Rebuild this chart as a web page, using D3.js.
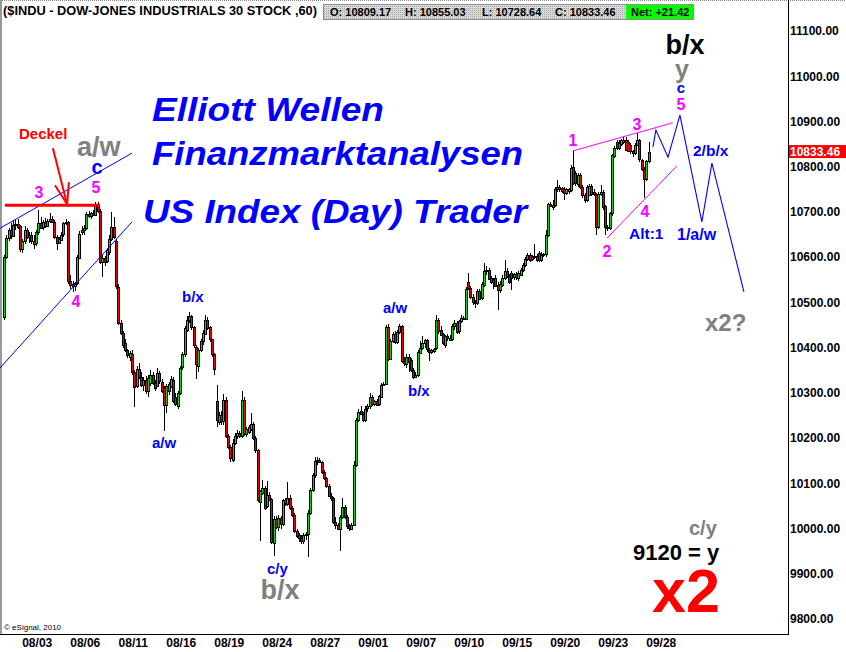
<!DOCTYPE html>
<html><head><meta charset="utf-8">
<script src="https://cdn.jsdelivr.net/npm/d3@7"></script>
<style>body{margin:0;background:#fff}svg{display:block;font-family:"Liberation Sans",Arial,sans-serif}</style>
</head><body><div id="chart"></div>
<script>
// ---- DATA: hourly bars, $INDU 60-min (08/02 - 09/28/2010) ----
const open = [
10467,10600,10642,10660,10648,10672,10674,10668,10618,10635,
10660,10645,10650,10636,10630,10655,10676,10666,10678,10670,
10680,10685,10678,10645,10632,10640,10650,10675,10678,10548,
10540,10535,10542,10600,10655,10660,10665,10695,10690,10697,
10693,10718,10703,10590,10598,10590,10612,10640,10667,10635,
10535,10455,10432,10410,10395,10380,10385,10345,10315,10352,
10335,10318,10328,10305,10322,10340,10322,10315,10343,10325,
10310,10272,10305,10315,10328,10290,10272,10300,10356,10385,
10440,10462,10470,10445,10402,10360,10395,10415,10432,10462,
10445,10418,10385,10282,10237,10252,10238,10285,10205,10180,
10152,10190,10205,10212,10205,10285,10208,10215,10222,10232,
10200,10173,10058,10080,10090,10050,10075,10065,9970,10022,
10005,10024,10010,10062,10055,10068,10045,10030,9995,9985,
9978,9972,9985,9988,10035,10085,10118,10150,10152,10148,
10125,10112,10095,10073,10068,10015,10008,9999,10025,10048,
10025,10005,10000,10008,10140,10240,10260,10254,10240,10265,
10270,10290,10275,10282,10274,10292,10318,10320,10445,10375,
10415,10430,10412,10435,10448,10370,10365,10380,10372,10350,
10335,10340,10390,10400,10410,10416,10395,10390,10394,10398,
10460,10440,10430,10405,10425,10418,10420,10448,10455,10435,
10458,10465,10463,10545,10532,10512,10500,10498,10525,10508,
10540,10570,10572,10553,10545,10555,10538,10527,10540,10555,
10570,10558,10565,10555,10562,10555,10562,10572,10582,10596,
10605,10595,10600,10603,10610,10594,10605,10607,10650,10718,
10710,10715,10750,10755,10752,10750,10742,10745,10750,10800,
10785,10762,10782,10755,10738,10726,10738,10758,10745,10740,
10667,10740,10745,10712,10665,10664,10697,10825,10855,10842,
10850,10855,10860,10855,10848,10835,10830,10848,10858,10815,
10795,10772,10812];
const high = [
10605,10648,10665,10675,10680,10685,10685,10672,10640,10668,
10665,10655,10656,10648,10660,10704,10688,10682,10686,10685,
10697,10692,10682,10650,10645,10655,10678,10685,10680,10560,
10548,10545,10605,10658,10668,10670,10700,10702,10700,10705,
10722,10722,10706,10604,10603,10620,10650,10700,10689,10640,
10540,10460,10436,10420,10398,10392,10395,10350,10360,10365,
10345,10335,10338,10340,10350,10345,10328,10355,10348,10330,
10315,10320,10325,10338,10335,10300,10305,10360,10390,10448,
10470,10478,10472,10448,10405,10400,10420,10440,10473,10468,
10448,10420,10388,10317,10258,10260,10298,10290,10210,10185,
10198,10212,10218,10215,10305,10290,10225,10228,10255,10236,
10205,10176,10085,10108,10095,10106,10080,10068,10028,10028,
10030,10028,10065,10068,10103,10075,10050,10035,10000,9990,
9985,9990,9992,10040,10090,10122,10158,10158,10155,10150,
10130,10115,10098,10078,10070,10025,10012,10030,10068,10052,
10030,10010,10012,10150,10245,10265,10272,10258,10270,10275,
10300,10295,10285,10286,10295,10322,10325,10450,10452,10420,
10435,10436,10440,10452,10450,10380,10385,10385,10378,10355,
10345,10395,10415,10425,10420,10420,10400,10398,10400,10472,
10465,10448,10432,10428,10430,10428,10452,10460,10458,10462,
10472,10470,10535,10566,10536,10518,10505,10530,10530,10545,
10586,10580,10575,10558,10555,10560,10545,10548,10560,10594,
10575,10562,10570,10565,10568,10570,10575,10588,10600,10610,
10610,10605,10628,10608,10614,10612,10610,10660,10720,10722,
10726,10755,10770,10760,10755,10754,10752,10752,10804,10838,
10790,10785,10786,10760,10742,10760,10762,10762,10750,10742,
10745,10760,10748,10715,10670,10700,10828,10845,10860,10858,
10862,10866,10866,10860,10852,10838,10852,10875,10862,10818,
10800,10815,10855];
const low = [
10460,10595,10635,10640,10645,10660,10662,10612,10610,10630,
10640,10632,10628,10618,10625,10650,10662,10660,10665,10668,
10675,10676,10640,10616,10628,10635,10645,10670,10540,10530,
10522,10525,10538,10595,10648,10650,10660,10686,10685,10690,
10690,10698,10585,10556,10580,10588,10605,10635,10640,10530,
10450,10428,10400,10390,10378,10370,10340,10268,10310,10330,
10312,10305,10298,10290,10315,10318,10305,10312,10320,10300,
10215,10255,10295,10310,10278,10270,10265,10295,10350,10380,
10435,10455,10440,10400,10330,10345,10390,10405,10428,10440,
10412,10380,10340,10225,10228,10228,10230,10200,10175,10148,
10148,10185,10198,10200,10200,10205,10203,10208,10215,10195,
10168,10058,9973,10075,10040,10045,10060,9965,9940,9998,
9995,10000,10005,10050,10050,10040,10025,9990,9980,9970,
9965,9965,9975,9937,10030,10080,10112,10140,10145,10120,
10108,10090,10070,10060,10010,10000,9996,9950,10020,10020,
10000,9995,9996,10005,10135,10235,10250,10235,10235,10258,
10265,10270,10270,10270,10270,10288,10315,10318,10370,10372,
10410,10408,10408,10430,10365,10360,10355,10345,10345,10330,
10332,10335,10385,10395,10400,10390,10370,10386,10388,10395,
10430,10425,10405,10400,10415,10414,10415,10440,10430,10430,
10455,10460,10460,10528,10508,10495,10487,10495,10505,10505,
10535,10560,10550,10540,10530,10535,10483,10520,10535,10550,
10553,10540,10527,10550,10550,10548,10558,10568,10578,10592,
10590,10592,10596,10590,10590,10590,10600,10600,10645,10710,
10705,10710,10745,10745,10742,10726,10738,10740,10745,10760,
10758,10755,10750,10730,10720,10722,10735,10735,10735,10649,
10662,10735,10705,10648,10658,10660,10692,10820,10838,10838,
10845,10850,10835,10832,10828,10822,10826,10845,10810,10790,
10731,10768,10808];
const close = [
10600,10642,10660,10648,10672,10674,10668,10618,10635,10660,
10645,10650,10636,10630,10655,10676,10666,10678,10670,10680,
10685,10678,10645,10632,10640,10650,10675,10678,10548,10540,
10535,10542,10600,10652,10660,10665,10695,10690,10697,10693,
10718,10703,10590,10598,10590,10615,10640,10667,10645,10535,
10455,10432,10405,10395,10383,10388,10345,10312,10352,10335,
10318,10328,10303,10333,10340,10322,10310,10343,10325,10306,
10272,10315,10320,10330,10282,10275,10300,10356,10385,10443,
10462,10470,10445,10405,10365,10395,10415,10432,10462,10445,
10418,10385,10352,10240,10252,10238,10285,10205,10180,10155,
10190,10205,10212,10205,10285,10210,10220,10225,10232,10200,
10173,10062,10082,10090,10045,10075,10065,9970,10022,10005,
10024,10010,10062,10055,10068,10045,10030,9995,9985,9978,
9972,9985,9988,10035,10085,10118,10150,10152,10148,10125,
10112,10095,10073,10068,10015,10008,9999,10025,10048,10025,
10005,10000,10008,10140,10240,10258,10254,10240,10265,10270,
10290,10275,10282,10274,10292,10318,10320,10445,10375,10415,
10430,10412,10435,10448,10370,10365,10380,10370,10350,10335,
10340,10390,10400,10410,10416,10395,10390,10394,10398,10460,
10435,10430,10410,10425,10420,10422,10448,10455,10435,10458,
10465,10463,10530,10532,10512,10500,10498,10525,10508,10540,
10570,10572,10553,10545,10550,10538,10527,10540,10555,10570,
10558,10545,10555,10562,10555,10565,10572,10582,10596,10605,
10595,10600,10603,10595,10594,10605,10607,10650,10718,10713,
10715,10750,10755,10750,10745,10742,10750,10750,10798,10765,
10762,10782,10755,10738,10726,10755,10758,10740,10740,10667,
10740,10745,10712,10665,10666,10697,10825,10842,10842,10852,
10858,10860,10838,10835,10835,10830,10848,10858,10815,10795,
10772,10812,10833];

const priceTicks = [9800,9900,10000,10100,10200,10300,10400,10500,10600,10700,10800,10900,11000,11100];
const dayLabels = ["08/03","08/06","08/11","08/16","08/19","08/24","08/27","09/01","09/07","09/10","09/15","09/20","09/23","09/28"];
const dayStartIndex = [6,27,48,69,90,111,132,153,174,195,216,237,258,279];
const lastPrice = 10833.46;
const quoteLabels = ["O: 10809.17","H: 10855.03","L: 10728.64","C: 10833.46"];
const netLabel = "Net: +21.42";
const titleText = "($INDU - DOW-JONES INDUSTRIALS 30 STOCK ,60)";

// annotation geometry in data space: [bar index, price]
const channelUpper = [[-1.75,10664],[56,10830]];
const channelLower = [[-1.75,10355],[56,10678]];
const deckelLine = [[0.4,10715],[42,10715]];
const arrowShaft = [[21.4,10841],[27.6,10717]];
const arrowHead = [[22.3,10759],[27.6,10717],[28.4,10766]];
const wedgeUpper = [[248.9,10835],[292.6,10897]];
const wedgeLower = [[263.8,10642],[294.4,10802]];
const projection = [[283.9,10844],[285.2,10881],[290.5,10821],[295.7,10914],[305.3,10678],[309.7,10808],[323.7,10523]];

// ---- DRAW ----
const W = 846, H = 652;
const svg = d3.select('#chart').append('svg').attr('width', W).attr('height', H);
const defs = svg.append('defs');
const pat = defs.append('pattern').attr('id','dots').attr('width',2).attr('height',2).attr('patternUnits','userSpaceOnUse');
pat.append('rect').attr('width',2).attr('height',2).attr('fill','#d8d8d8');
pat.append('rect').attr('width',1).attr('height',1).attr('fill','#a8a8a8');

svg.append('rect').attr('width', W).attr('height', H).attr('fill', '#fff');

const x = d3.scaleLinear().domain([0, 282]).range([4, 648.6]);
const y = d3.scaleLinear().domain([9800, 11100]).range([619, 31]);

// frame
svg.append('line').attr('x1',0).attr('x2',W).attr('y1',0.5).attr('y2',0.5).attr('stroke','#888').attr('stroke-dasharray','1,1');
svg.append('line').attr('x1',1).attr('x2',1).attr('y1',0).attr('y2',634).attr('stroke','#999').attr('stroke-width',2);
svg.append('line').attr('x1',788.5).attr('x2',788.5).attr('y1',0).attr('y2',635).attr('stroke','#000');
svg.append('line').attr('x1',0).attr('x2',789).attr('y1',634.5).attr('y2',634.5).attr('stroke','#000');

// axes
const yAxis = d3.axisRight(y).tickValues(priceTicks).tickSize(0).tickPadding(2).tickFormat(d3.format('.2f'));
const gy = svg.append('g').attr('transform','translate(788,0)').call(yAxis);
gy.select('.domain').remove();
gy.selectAll('text').attr('font-size',12).attr('font-weight','bold').attr('fill','#000').attr('font-family','"Liberation Sans",Arial,sans-serif');

const xAxis = d3.axisBottom(x).tickValues(dayStartIndex).tickSize(0).tickPadding(4).tickFormat((d,i)=>dayLabels[i]);
const gx = svg.append('g').attr('transform','translate(0,634)').call(xAxis);
gx.select('.domain').remove();
gx.selectAll('text').attr('dx',19).attr('font-size',12).attr('font-weight','bold').attr('fill','#000').attr('font-family','"Liberation Sans",Arial,sans-serif');

// candles
const bars = d3.range(close.length).map(i => ({i, o: open[i], h: high[i], l: low[i], c: close[i]}));
const cg = svg.append('g').attr('shape-rendering','crispEdges');
cg.selectAll('line.w').data(bars).join('line').attr('class','w')
  .attr('x1', d => Math.round(x(d.i)) + 0.5).attr('x2', d => Math.round(x(d.i)) + 0.5)
  .attr('y1', d => y(d.h)).attr('y2', d => y(d.l)).attr('stroke','#000');
cg.selectAll('rect.b').data(bars).join('rect').attr('class','b')
  .attr('x', d => Math.round(x(d.i)) - 0.5)
  .attr('width', 2)
  .attr('y', d => Math.round(y(Math.max(d.o, d.c))) + 0.5)
  .attr('height', d => Math.max(1, Math.round(Math.abs(y(d.o) - y(d.c)))))
  .attr('fill', d => d.c >= d.o ? '#00dd00' : '#ee0000')
  .attr('stroke','#000').attr('stroke-width',1);

// annotation lines
const ln = d3.line().x(d => x(d[0])).y(d => y(d[1]));
svg.append('path').attr('d', ln(channelUpper)).attr('stroke','#0000ff').attr('fill','none');
svg.append('path').attr('d', ln(channelLower)).attr('stroke','#0000ff').attr('fill','none');
svg.append('path').attr('d', ln(deckelLine)).attr('stroke','#ff0000').attr('stroke-width',3).attr('fill','none');
svg.append('path').attr('d', ln(arrowShaft)).attr('stroke','#ff0000').attr('stroke-width',2).attr('fill','none');
svg.append('path').attr('d', ln(arrowHead)).attr('stroke','#ff0000').attr('stroke-width',2).attr('fill','none');
svg.append('path').attr('d', ln(wedgeUpper)).attr('stroke','#ff00ff').attr('fill','none');
svg.append('path').attr('d', ln(wedgeLower)).attr('stroke','#ff00ff').attr('fill','none');
svg.append('path').attr('d', ln(projection)).attr('stroke','#0000ff').attr('stroke-width',1.1).attr('fill','none');

// text helper
function txt(s, tx, ty, size, color, opt = {}) {
  const t = svg.append('text').attr('x', tx).attr('y', ty).text(s)
    .attr('font-size', size).attr('font-weight', opt.weight || 'bold').attr('fill', color)
    .attr('text-anchor', opt.anchor || 'start');
  if (opt.italic) t.attr('font-style','italic');
  if (opt.len) t.attr('textLength', opt.len).attr('lengthAdjust','spacingAndGlyphs');
  return t;
}

// header
txt(titleText, 3, 15, 13, '#000', {len: 314});
svg.append('rect').attr('x',323.5).attr('y',4.5).attr('width',370).attr('height',15).attr('fill','url(#dots)').attr('stroke','#909090');
const qx = [330, 405, 482, 555];
quoteLabels.forEach((q,i) => txt(q, qx[i], 16, 11, '#000'));
svg.append('rect').attr('x',626).attr('y',5).attr('width',67).attr('height',14).attr('fill','#00ff00');
txt(netLabel, 631, 16, 11, '#000');

// last price marker
svg.append('rect').attr('x',789).attr('y',y(lastPrice)-6.5).attr('width',57).attr('height',13).attr('fill','#ff0000');
txt(d3.format('.2f')(lastPrice), 790, y(lastPrice)+4.5, 12, '#fff');

// copyright
txt('\u00a9 eSignal, 2010', 4, 630, 8, '#000', {weight:'normal'});

// big headlines
txt('Elliott Wellen', 152, 121, 34, '#0000ff', {italic:true, len:232});
txt('Finanzmarktanalysen', 152, 165, 34, '#0000ff', {italic:true, len:371});
txt('US Index (Day) Trader', 143, 223, 34, '#0000ff', {italic:true, len:384});

// wave labels
txt('Deckel', 19, 139, 15, '#ff0000');
txt('a/w', 77, 156, 27, '#808080');
txt('c', 97, 174, 20, '#0000ff', {anchor:'middle'});
txt('3', 39, 198, 16, '#ff00ff', {anchor:'middle'});
txt('5', 96, 193, 16, '#ff00ff', {anchor:'middle'});
txt('4', 76, 307, 16, '#ff00ff', {anchor:'middle'});
txt('b/x', 182, 302, 15, '#0000ff');
txt('a/w', 152, 448, 15, '#0000ff');
txt('c/y', 267, 574, 15, '#0000ff');
txt('b/x', 280, 599, 27, '#808080', {anchor:'middle'});
txt('a/w', 383, 313, 15, '#0000ff');
txt('b/x', 408, 396, 15, '#0000ff');
txt('1', 573, 146, 16, '#ff00ff', {anchor:'middle'});
txt('3', 637, 130, 16, '#ff00ff', {anchor:'middle'});
txt('2', 607, 257, 16, '#ff00ff', {anchor:'middle'});
txt('4', 645, 217, 16, '#ff00ff', {anchor:'middle'});
txt('Alt:1', 629, 239, 15.5, '#0000ff');
txt('5', 681, 110, 16, '#ff00ff', {anchor:'middle'});
txt('c', 681, 93, 15, '#0000ff', {anchor:'middle'});
txt('y', 682, 78, 25, '#808080', {anchor:'middle'});
txt('b/x', 685, 54, 27, '#000', {anchor:'middle'});
txt('2/b/x', 693, 156, 15.5, '#0000ff');
txt('1/a/w', 677, 240, 16, '#0000ff');
txt('x2?', 705, 331, 24, '#808080');
txt('c/y', 689, 535, 20, '#808080');
txt('9120 = y', 633, 560, 22, '#000');
txt('x2', 652, 612, 61, '#ff0000');
</script>
</body></html>
